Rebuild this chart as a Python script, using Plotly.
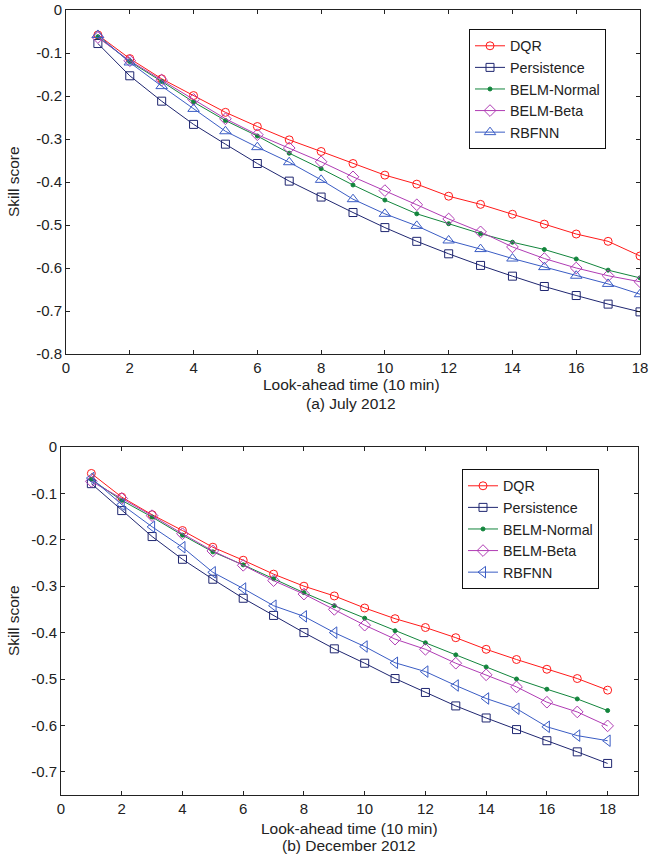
import plotly.graph_objects as go

steps = list(range(1, 19))
series_names = ["DQR", "Persistence", "BELM-Normal", "BELM-Beta", "RBFNN"]

# (a) July 2012
jul_dqr = [-0.058, -0.113, -0.160, -0.199, -0.238, -0.271, -0.302, -0.329, -0.357, -0.384, -0.405, -0.433, -0.452, -0.475, -0.498, -0.521, -0.538, -0.572]
jul_persistence = [-0.078, -0.153, -0.212, -0.266, -0.312, -0.357, -0.398, -0.435, -0.471, -0.506, -0.538, -0.567, -0.594, -0.619, -0.643, -0.664, -0.684, -0.702]
jul_belm_normal = [-0.062, -0.120, -0.166, -0.214, -0.257, -0.293, -0.333, -0.369, -0.407, -0.442, -0.474, -0.497, -0.520, -0.540, -0.557, -0.579, -0.605, -0.623]
jul_belm_beta = [-0.064, -0.118, -0.163, -0.208, -0.253, -0.290, -0.321, -0.353, -0.388, -0.420, -0.453, -0.486, -0.516, -0.551, -0.578, -0.600, -0.618, -0.632]
jul_rbfnn = [-0.058, -0.122, -0.177, -0.230, -0.282, -0.319, -0.354, -0.395, -0.440, -0.474, -0.502, -0.536, -0.556, -0.578, -0.598, -0.618, -0.637, -0.661]

# (b) December 2012
dec_dqr = [-0.057, -0.108, -0.146, -0.180, -0.216, -0.244, -0.274, -0.300, -0.321, -0.347, -0.370, -0.389, -0.411, -0.436, -0.458, -0.479, -0.499, -0.524]
dec_persistence = [-0.079, -0.137, -0.193, -0.242, -0.285, -0.326, -0.363, -0.400, -0.435, -0.466, -0.499, -0.529, -0.558, -0.584, -0.609, -0.633, -0.657, -0.682]
dec_belm_normal = [-0.070, -0.115, -0.151, -0.190, -0.226, -0.254, -0.284, -0.314, -0.342, -0.369, -0.396, -0.422, -0.448, -0.474, -0.500, -0.522, -0.543, -0.568]
dec_belm_beta = [-0.074, -0.111, -0.148, -0.187, -0.224, -0.255, -0.288, -0.317, -0.350, -0.384, -0.414, -0.436, -0.466, -0.491, -0.517, -0.550, -0.571, -0.601]
dec_rbfnn = [-0.067, -0.124, -0.172, -0.216, -0.270, -0.305, -0.342, -0.365, -0.400, -0.430, -0.465, -0.484, -0.514, -0.542, -0.564, -0.603, -0.622, -0.633]

x_tickvals = [0, 2, 4, 6, 8, 10, 12, 14, 16, 18]
x_ticktext = ["0", "2", "4", "6", "8", "10", "12", "14", "16", "18"]
y1_tickvals = [0, -0.1, -0.2, -0.3, -0.4, -0.5, -0.6, -0.7, -0.8]
y1_ticktext = ["0", "-0.1", "-0.2", "-0.3", "-0.4", "-0.5", "-0.6", "-0.7", "-0.8"]
y2_tickvals = [0, -0.1, -0.2, -0.3, -0.4, -0.5, -0.6, -0.7]
y2_ticktext = ["0", "-0.1", "-0.2", "-0.3", "-0.4", "-0.5", "-0.6", "-0.7"]

colors = ["#ff1a1a", "#1f2670", "#12853c", "#b03cb4", "#3a5cc4"]
FONT = "Liberation Sans, Arial, sans-serif"
TXT = "#222222"

fig = go.Figure()

jul = [jul_dqr, jul_persistence, jul_belm_normal, jul_belm_beta, jul_rbfnn]
dec = [dec_dqr, dec_persistence, dec_belm_normal, dec_belm_beta, dec_rbfnn]
sym_top = ["circle-open", "square-open", "circle", "diamond-open", "triangle-up-open"]
sym_bot = ["circle-open", "square-open", "circle", "diamond-open", "triangle-left-open"]
sizes = [8, 8, 4, 9, 10]

for i, name in enumerate(series_names):
    fig.add_trace(go.Scatter(
        x=steps, y=jul[i], name=name, mode="lines+markers",
        line=dict(color=colors[i], width=1),
        marker=dict(symbol=sym_top[i], size=sizes[i], color=colors[i], line=dict(width=1, color=colors[i])),
        xaxis="x", yaxis="y", legend="legend"))
for i, name in enumerate(series_names):
    fig.add_trace(go.Scatter(
        x=steps, y=dec[i], name=name, mode="lines+markers",
        line=dict(color=colors[i], width=1),
        marker=dict(symbol=sym_bot[i], size=sizes[i], color=colors[i], line=dict(width=1, color=colors[i])),
        xaxis="x2", yaxis="y2", legend="legend2"))

axis_common = dict(showline=True, linecolor=TXT, linewidth=1, mirror="ticks",
                   ticks="inside", ticklen=4, tickcolor=TXT, showgrid=False,
                   zeroline=False, automargin=False,
                   tickfont=dict(family=FONT, size=15, color=TXT))

legend_common = dict(xanchor="left", yanchor="top", bgcolor="white",
                     bordercolor="#111111", borderwidth=1,
                     font=dict(family=FONT, size=14.3, color=TXT),
                     tracegroupgap=0, itemwidth=30)

fig.update_layout(
    width=662, height=854,
    margin=dict(l=0, r=0, t=0, b=0, autoexpand=False),
    paper_bgcolor="white", plot_bgcolor="white",
    font=dict(family=FONT, size=15, color=TXT),
    xaxis=dict(domain=[66/662, 640/662], range=[0, 18], tickvals=x_tickvals, ticktext=x_ticktext,
               anchor="y", **axis_common),
    yaxis=dict(domain=[1-354/854, 1-10/854], range=[-0.8, 0], tickvals=y1_tickvals, ticktext=y1_ticktext,
               anchor="x", **axis_common),
    xaxis2=dict(domain=[61/662, 638/662], range=[0, 19], tickvals=x_tickvals, ticktext=x_ticktext,
                anchor="y2", **axis_common),
    yaxis2=dict(domain=[1-795/854, 1-447/854], range=[-0.75, 0], tickvals=y2_tickvals, ticktext=y2_ticktext,
                anchor="x2", **axis_common),
    legend=dict(x=469/662, y=1-29/854, **legend_common),
    legend2=dict(x=462/662, y=1-469/854, **legend_common),
    showlegend=True,
)

ann = [
    ("Look-ahead time (10 min)", 351/662, 1-385/854, 0),
    ("(a) July 2012", 351/662, 1-403/854, 0),
    ("Look-ahead time (10 min)", 349/662, 1-828/854, 0),
    ("(b) December 2012", 349/662, 1-845/854, 0),
    ("Skill score", 13/662, 1-182/854, -90),
    ("Skill score", 13/662, 1-621/854, -90),
]
for text, x, y, ang in ann:
    fig.add_annotation(text=text, x=x, y=y, xref="paper", yref="paper", showarrow=False,
                       textangle=ang, xanchor="center", yanchor="middle",
                       font=dict(family=FONT, size=15.5, color=TXT))

fig.write_html("out.html",
               config={"displayModeBar": False},
               post_script="document.body.style.margin='0px';document.body.style.overflow='hidden';")
